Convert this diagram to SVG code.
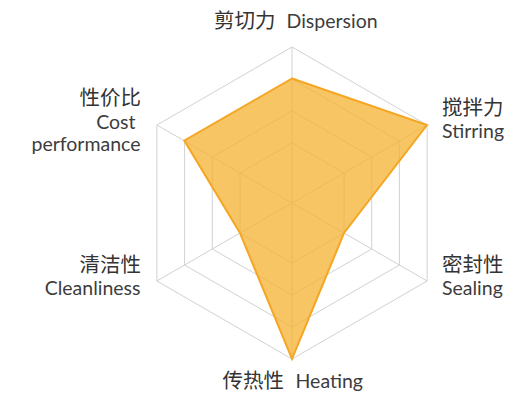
<svg xmlns="http://www.w3.org/2000/svg" width="509" height="397" viewBox="0 0 509 397">
<style>
.grid{fill:none;stroke:#d2d2d2;stroke-width:1}
.zh{font-family:"Noto Sans CJK SC",sans-serif;font-size:20.5px;font-weight:400;fill:#333}
.en{font-family:Lato,"Noto Sans",sans-serif;font-size:19.5px;font-weight:400;fill:#3d3d3d}
.end{text-anchor:end}
</style>
<rect width="509" height="397" fill="#fff"/>
<g id="grid">
<polygon class="grid" points="292,47 427.1,125 427.1,281 292,359 156.9,281 156.9,125"/>
<polygon class="grid" points="292,79 399.4,141 399.4,265 292,327 184.6,265 184.6,141"/>
<polygon class="grid" points="292,111 371.7,157 371.7,249 292,295 212.3,249 212.3,157"/>
<polygon class="grid" points="292,143 344,173 344,233 292,263 240,233 240,173"/>
<path class="grid" d="M292,203L292,47M292,203L427.1,125M292,203L427.1,281M292,203L292,359M292,203L156.9,281M292,203L156.9,125"/>
</g>
<g id="data">
<polygon points="292,78.5 427,125 344,233 292,359 240,233 184.3,140.5" fill="#F4B230" fill-opacity="0.75" stroke="#F5A623" stroke-width="2"/>
</g>
<g id="label-dispersion"><text class="zh" x="214" y="28">剪切力</text><text class="en" x="286.5" y="28">Dispersion</text></g>
<g id="label-stirring"><text class="zh" x="442" y="115">搅拌力</text><text class="en" x="442" y="138">Stirring</text></g>
<g id="label-sealing"><text class="zh" x="442" y="272">密封性</text><text class="en" x="442" y="295">Sealing</text></g>
<g id="label-heating"><text class="zh" x="222.5" y="388">传热性</text><text class="en" x="295.5" y="388">Heating</text></g>
<g id="label-cleanliness"><text class="zh end" x="141" y="272">清洁性</text><text class="en end" x="140.5" y="295">Cleanliness</text></g>
<g id="label-cost"><text class="zh end" x="141" y="105">性价比</text><text class="en end" x="135.5" y="129">Cost</text><text class="en end" x="140.5" y="151">performance</text></g>
</svg>
